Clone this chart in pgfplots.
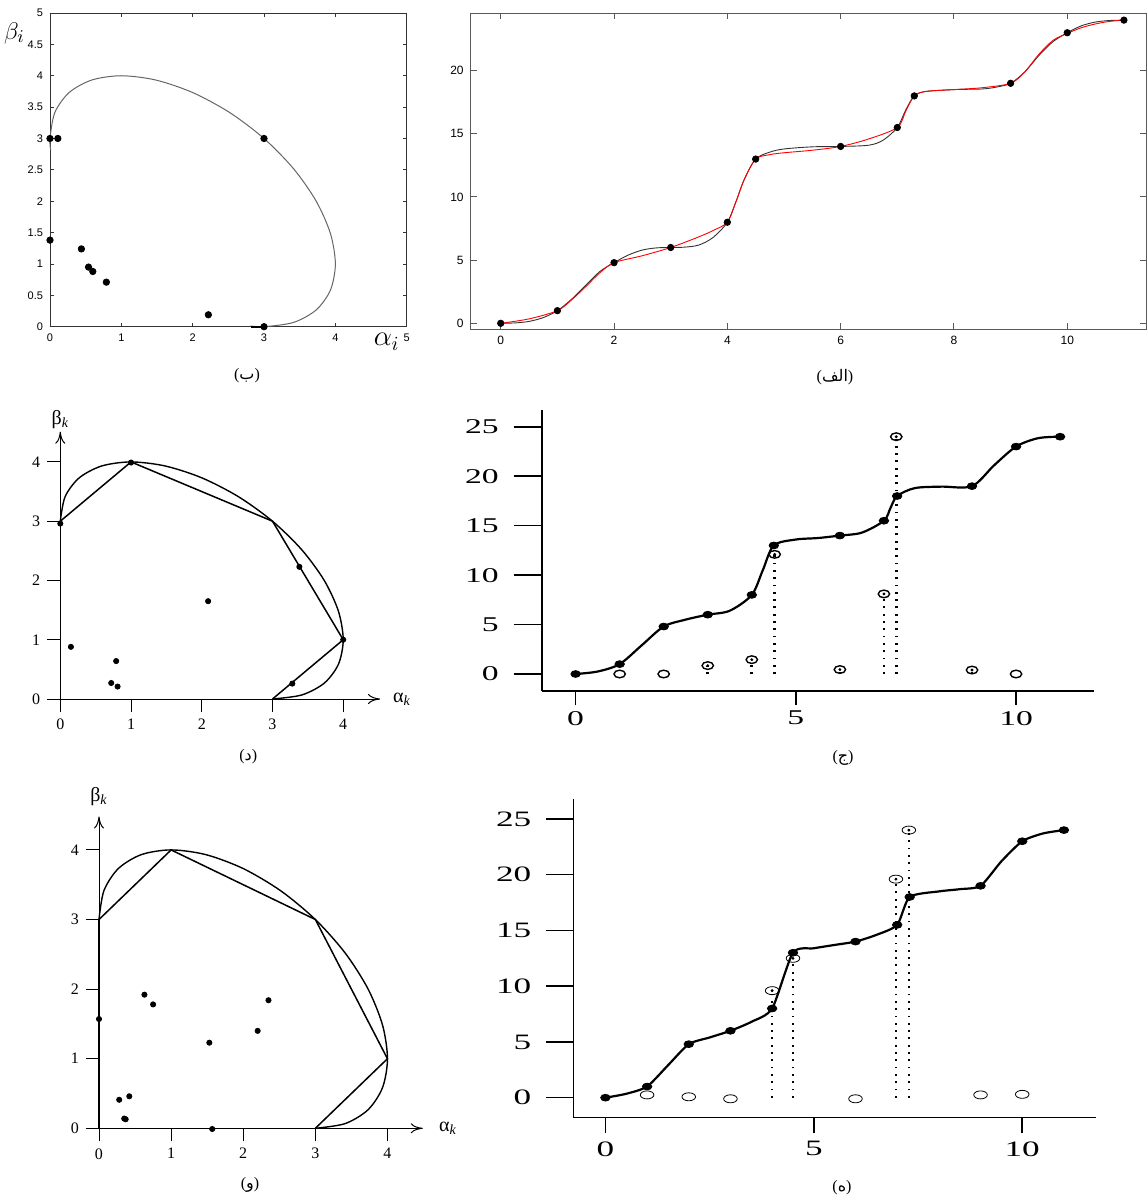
\documentclass[border=0pt]{standalone}
\usepackage{pgfplots}
\pgfplotsset{compat=1.18}
\usetikzlibrary{arrows.meta}
\usepackage{fontspec}
\TeXXeTstate=1
\newfontfamily\arabicfont[Script=Arabic]{DejaVu Sans}
\newfontfamily\sansf{Liberation Sans}
\newfontfamily\tms{Liberation Serif}
\newfontfamily\tmswide[FakeStretch=1.6]{Liberation Serif}
\newcommand{\pcap}[1]{{\tms(}{\arabicfont#1}{\tms)}}
\pgfplotsset{
  fdot/.style={only marks, mark=*, mark size=1.7pt, mark options={xscale=1.4, fill=black, draw=black}},
  odot/.style={only marks, mark=o, mark size=1.9pt, mark options={xscale=1.5, line width=0.7pt, draw=black}},
  cdot/.style={only marks, mark=*, mark size=0.5pt, mark options={fill=black,draw=black}},
  vdot/.style={black, line width=1.3pt, dash pattern=on 0.9pt off 2.75pt, no marks},
  pdot/.style={only marks, mark=*, mark size=1.6pt, mark options={fill=black,draw=black}},
  tickonly/.style={anchor=south west, scale only axis, axis lines=left,
     axis line style={draw=none}, tick align=outside,
     tick style={black, line width=0.8pt}},
}
\begin{document}
\begin{tikzpicture}
\useasboundingbox (0,0) rectangle (573.5pt,-601.5pt);
\fill[white] (0,0) rectangle (573.5pt,-601.5pt);

% ---------------- (b) top left
\begin{axis}[at={(25pt,-163.35pt)}, anchor=south west, scale only axis,
  width=178.35pt, height=156.85pt,
  xmin=0, xmax=5, ymin=0, ymax=5,
  xtick={0,1,2,3,4,5}, ytick={0,0.5,1,1.5,2,2.5,3,3.5,4,4.5,5},
  tick align=inside, major tick length=2pt,
  axis line style={black!80, line width=0.4pt}, tick style={black!80, line width=0.4pt},
  /pgf/number format/assume math mode=true,
  ticklabel style={font=\sansf\fontsize{5.5}{6}\selectfont},
  clip=false]
\addplot[black!60, line width=0.5pt, smooth] coordinates {
 (2.813,0.011) (3,0) (3.414,0.068) (3.732,0.268) (3.932,0.586) (4,1) (3.932,1.482) (3.732,2) (3.414,2.518) (3,3) (2.518,3.414) (2,3.732) (1.482,3.932) (1,4) (0.586,3.932) (0.268,3.732) (0.068,3.414) (0,3) (0.011,2.813)};
\addplot[black, line width=0.8pt] coordinates {(2.82,0) (3,0)};
\addplot[pdot] coordinates {(0,3) (0.11,3) (3,3) (3,0) (0,1.38) (0.44,1.24) (0.54,0.95) (0.6,0.88) (0.79,0.71) (2.22,0.19)};
\node[font=\fontsize{14}{14}\selectfont] at (axis cs:4.72,-0.24) {$\alpha_i$};
\node[font=\fontsize{13}{13}\selectfont] at (axis cs:-0.5,4.68) {$\beta_i$};
\end{axis}

% ---------------- (alef) top right
\begin{axis}[at={(235.35pt,-164.65pt)}, anchor=south west, scale only axis,
  width=337.65pt, height=158pt,
  xmin=-0.53, xmax=11.39, ymin=-0.475, ymax=24.54,
  xtick={0,2,4,6,8,10}, ytick={0,5,10,15,20},
  tick align=inside, major tick length=3pt,
  axis line style={black!65, line width=0.5pt}, tick style={black!65, line width=0.5pt},
  /pgf/number format/assume math mode=true,
  ticklabel style={font=\sansf\fontsize{6}{7}\selectfont},
  clip=false]
\addplot[black!80, line width=0.45pt, smooth] coordinates {
 (0,0) (0.25,0.03) (0.5,0.15) (0.75,0.45) (1,1) (1.25,1.9) (1.5,3.0) (1.75,4.1) (2,4.8) (2.25,5.4) (2.5,5.8) (2.75,5.97) (3,6) (3.25,6.03) (3.5,6.2) (3.75,6.8) (4,8) (4.15,9.6) (4.3,11.4) (4.5,13) (4.75,13.55) (5,13.8) (5.5,13.97) (6,14) (6.5,14.1) (6.75,14.5) (7,15.5) (7.15,16.9) (7.3,18) (7.5,18.35) (8,18.5) (8.5,18.55) (8.75,18.7) (9,19) (9.25,19.9) (9.5,21.2) (9.75,22.3) (10,23) (10.25,23.55) (10.5,23.85) (10.75,23.97) (11,24)};
\addplot[red, line width=0.45pt, smooth] coordinates {
 (0,0) (0.5,0.35) (1,1) (1.25,1.85) (1.5,2.9) (1.75,4.0) (2,4.8) (2.5,5.35) (3,6) (3.5,6.85) (3.75,7.35) (4,8) (4.15,9.6) (4.3,11.4) (4.5,13) (4.75,13.35) (5,13.5) (5.5,13.7) (6,14) (6.5,14.6) (7,15.5) (7.15,16.8) (7.3,18) (7.5,18.35) (8,18.5) (8.5,18.65) (9,19) (9.25,19.9) (9.5,21.3) (9.75,22.4) (10,22.95) (10.25,23.4) (10.5,23.7) (10.75,23.9) (11,24)};
\addplot[pdot] coordinates {(0,0) (1,1) (2,4.8) (3,6) (4,8) (4.5,13) (6,14) (7,15.5) (7.3,18) (9,19) (10,23) (11,24)};
\end{axis}

% ---------------- (d) middle left
\begin{axis}[at={(30.15pt,-349.5pt)}, anchor=south west, scale only axis,
  width=159.85pt, height=133.65pt,
  xmin=0, xmax=4.52, ymin=0, ymax=4.51,
  axis lines=left, axis line style={-{To[length=6pt,width=5pt]}, line width=0.5pt},
  xtick={0,1,2,3,4}, ytick={0,1,2,3,4},
  tick align=outside, tick style={black, line width=0.5pt},
  major tick length=6.5pt,
  /pgf/number format/assume math mode=true,
  ticklabel style={font=\tms\fontsize{8}{9}\selectfont},
  clip=false]
\addplot[black, line width=0.7pt, smooth] coordinates {
 (3,0) (3.414,0.068) (3.732,0.268) (3.932,0.586) (4,1) (3.932,1.482) (3.732,2) (3.414,2.518) (3,3) (2.518,3.414) (2,3.732) (1.482,3.932) (1,4) (0.586,3.932) (0.268,3.732) (0.068,3.414) (0,3)};
\addplot[black, line width=0.75pt] coordinates {(0,3) (1,4) (3,3) (4,1) (3,0)};
\addplot[pdot, mark size=1.3pt] coordinates {(0,2.96) (1,3.99) (3.38,2.23) (4,1) (3.28,0.26) (2.09,1.65) (0.15,0.88) (0.79,0.64) (0.72,0.27) (0.81,0.21)};
\node[font=\tms\fontsize{10}{10}\selectfont] at (axis cs:0,4.72) {β\textsubscript{\itshape k}};
\node[font=\tms\fontsize{10}{10}\selectfont] at (axis cs:4.83,0) {α\textsubscript{\itshape k}};
\end{axis}

% ---------------- (j) middle right
\begin{axis}[at={(270.85pt,-345.5pt)}, anchor=south west, scale only axis,
  width=276.15pt, height=140.5pt,
  xmin=-0.77, xmax=11.77, ymin=-1.72, ymax=26.7,
  axis lines=left, axis line style={-, line width=0.8pt},
  xtick={0,5,10}, ytick={0,5,10,15,20,25},
  tick align=outside, tick style={black, line width=0.8pt},
  major tick length=7pt,
  /pgf/number format/assume math mode=true,
  ticklabel style={font=\tmswide\fontsize{10.5}{10.5}\selectfont},
  xticklabel style={yshift=0.5pt}, yticklabel style={xshift=-11pt},
  clip=false]
\addplot[vdot] coordinates {(3,0) (3,0.85)};
\addplot[vdot] coordinates {(4,0) (4,1.45)};
\addplot[vdot] coordinates {(4.52,0) (4.52,12.1)};
\addplot[vdot] coordinates {(6,0) (6,0.45)};
\addplot[vdot] coordinates {(7,0) (7,8.1)};
\addplot[vdot] coordinates {(7.28,0) (7.28,24)};
\addplot[vdot] coordinates {(9,0) (9,0.4)};
\addplot[black, line width=1.1pt, smooth] coordinates {
 (0,0) (0.5,0.25) (1,1) (1.5,2.9) (2,4.8) (2.5,5.5) (3,6) (3.5,6.4) (4,8) (4.25,10.5) (4.5,13) (5,13.6) (5.5,13.75) (6,14) (6.5,14.3) (7,15.5) (7.15,16.8) (7.3,18) (7.7,18.8) (8.3,18.95) (9,19) (9.5,21.1) (10,23) (10.5,23.85) (11,24)};
\addplot[fdot] coordinates {(0,0) (1,1) (2,4.8) (3,6) (4,8) (4.5,13) (6,14) (7,15.5) (7.3,18) (9,19) (10,23) (11,24)};
\addplot[odot] coordinates {(1,0) (2,0) (10,0) (3,0.85) (4,1.45) (4.52,12.1) (6,0.45) (7,8.1) (7.28,24) (9,0.4)};
\addplot[cdot] coordinates {(3,0.85) (4,1.45) (4.52,12.1) (6,0.45) (7,8.1) (7.28,24) (9,0.4)};
\end{axis}
\begin{axis}[tickonly, at={(270.85pt,-345.5pt)}, width=276.15pt, height=140.5pt,
  xmin=-0.77, xmax=11.77, ymin=-1.72, ymax=26.7,
  xtick=\empty, ytick={0,5,10,15,20,25}, yticklabels={}, major tick length=14pt]
\addplot[draw=none] coordinates {(0,0)};
\end{axis}

% ---------------- (v) bottom left
\begin{axis}[at={(49.5pt,-564.15pt)}, anchor=south west, scale only axis,
  width=161.9pt, height=155.9pt,
  xmin=0, xmax=4.49, ymin=0, ymax=4.48,
  axis lines=left, axis line style={-{To[length=6pt,width=5pt]}, line width=0.5pt},
  xtick={0,1,2,3,4}, ytick={0,1,2,3,4},
  tick align=outside, tick style={black, line width=0.5pt},
  major tick length=6.5pt,
  /pgf/number format/assume math mode=true,
  ticklabel style={font=\tms\fontsize{8}{9}\selectfont},
  clip=false]
\addplot[black, line width=0.7pt, smooth] coordinates {
 (3,0) (3.414,0.068) (3.732,0.268) (3.932,0.586) (4,1) (3.932,1.482) (3.732,2) (3.414,2.518) (3,3) (2.518,3.414) (2,3.732) (1.482,3.932) (1,4) (0.586,3.932) (0.268,3.732) (0.068,3.414) (0,3)};
\addplot[black, line width=0.75pt] coordinates {(0,3) (1,4) (3,3) (4,1) (3,0)};
\addplot[black, line width=0.75pt] coordinates {(0,0) (0,3)};
\addplot[pdot, mark size=1.3pt] coordinates {(0,1.57) (0.63,1.92) (0.75,1.78) (2.35,1.84) (2.2,1.40) (1.53,1.23) (0.28,0.41) (0.42,0.46) (0.35,0.14) (0.37,0.13) (1.57,-0.01)};
\node[font=\tms\fontsize{10}{10}\selectfont] at (axis cs:0,4.76) {β\textsubscript{\itshape k}};
\node[font=\tms\fontsize{10}{10}\selectfont] at (axis cs:4.84,0) {α\textsubscript{\itshape k}};
\end{axis}

% ---------------- (h) bottom right
\begin{axis}[at={(286.65pt,-558.65pt)}, anchor=south west, scale only axis,
  width=261.35pt, height=159pt,
  xmin=-0.77, xmax=11.77, ymin=-1.76, ymax=26.76,
  axis lines=left, axis line style={-, line width=0.8pt},
  xtick={0,5,10}, ytick={0,5,10,15,20,25},
  tick align=outside, tick style={black, line width=0.8pt},
  major tick length=8pt,
  /pgf/number format/assume math mode=true,
  ticklabel style={font=\tmswide\fontsize{11}{11}\selectfont},
  xticklabel style={yshift=-0.5pt}, yticklabel style={xshift=-9.5pt},
  clip=false]
\addplot[vdot] coordinates {(4,0) (4,9.6)};
\addplot[vdot] coordinates {(4.5,0) (4.5,12.5)};
\addplot[vdot] coordinates {(6.97,0) (6.97,19.6)};
\addplot[vdot] coordinates {(7.28,0) (7.28,24)};
\addplot[black, line width=1.1pt, smooth, tension=0.4] coordinates {
 (0,0) (0.5,0.35) (1,1) (1.5,2.9) (2,4.8) (2.5,5.4) (3,6) (3.5,6.8) (4,8) (4.5,13) (5,13.4) (5.5,13.7) (6,14) (6.5,14.6) (7,15.5) (7.3,18) (8,18.5) (8.5,18.7) (9,19) (9.5,21.2) (10,23) (10.5,23.7) (11,24)};
\addplot[fdot] coordinates {(0,0) (1,1) (2,4.8) (3,6) (4,8) (4.5,13) (6,14) (7,15.5) (7.3,18) (9,19) (10,23) (11,24)};
\addplot[odot, mark size=2pt, mark options={xscale=1.7}] coordinates {(1,0.25) (2,0.08) (3,-0.1) (6,-0.1) (9,0.25) (10,0.3) (4,9.6) (4.5,12.5) (6.97,19.6) (7.28,24)};
\addplot[cdot] coordinates {(4,9.6) (4.5,12.5) (6.97,19.6) (7.28,24)};
\end{axis}
\begin{axis}[tickonly, at={(286.65pt,-558.65pt)}, width=261.35pt, height=159pt,
  xmin=-0.77, xmax=11.77, ymin=-1.76, ymax=26.76,
  xtick=\empty, ytick={0,5,10,15,20,25}, yticklabels={}, major tick length=13.5pt]
\addplot[draw=none] coordinates {(0,0)};
\end{axis}

% ---------------- panel captions
\begin{scope}[every node/.style={font=\fontsize{8}{9}\selectfont}]
\node at (123.5pt,-188pt) {\pcap{ب}};
\node at (417.5pt,-188.5pt) {\pcap{\beginR الف\endR}};
\node at (124.15pt,-378.35pt) {\pcap{د}};
\node at (421.5pt,-379pt) {\pcap{ج}};
\node at (125pt,-592.5pt) {\pcap{و}};
\node at (421pt,-594pt) {\pcap{ه}};
\end{scope}
\end{tikzpicture}
\end{document}
